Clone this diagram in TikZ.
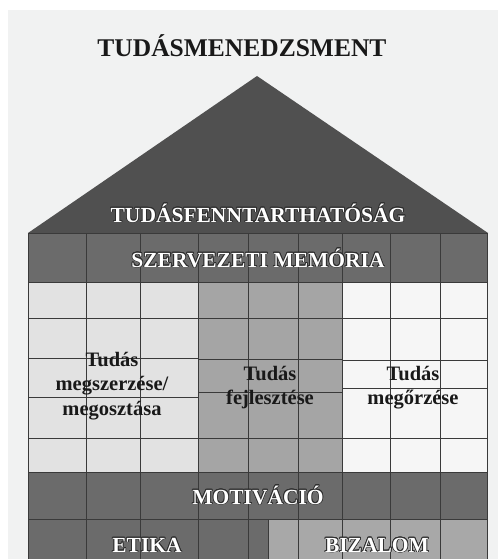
\documentclass[tikz,border=0pt]{standalone}
\usepackage{fontspec}
\usepackage{contour}
\setmainfont{Liberation Serif}
\contourlength{0.7pt}
\definecolor{backdrop}{HTML}{F1F2F2}
\definecolor{roof}{HTML}{505050}
\definecolor{band}{HTML}{6B6B6B}
\definecolor{leftpillar}{HTML}{E2E2E2}
\definecolor{midpillar}{HTML}{A5A5A5}
\definecolor{rightpillar}{HTML}{F6F6F6}
\definecolor{trust}{HTML}{A8A8A8}
\definecolor{gridline}{HTML}{3A3A3A}
\definecolor{glow}{HTML}{2E2E2E}
\newcommand{\bandlabel}[1]{\contour{glow}{#1}}

\begin{document}
\begin{tikzpicture}[x=1pt, y=-1pt]
\tikzstyle{TitleText}=[text=black!90, anchor=base, inner sep=0pt,
                       font=\bfseries\fontsize{25.5}{28}\selectfont]
\tikzstyle{BandText}=[text=white, anchor=base, inner sep=0pt,
                      font=\bfseries\fontsize{21.5}{24}\selectfont]
\tikzstyle{PillarText}=[text=black!90, align=center, inner sep=0pt,
                        font=\bfseries\fontsize{20.5}{24.5}\selectfont]
\tikzstyle{GridLine}=[draw=gridline, line width=0.9pt]
\useasboundingbox (0,0) rectangle (498,559);
\fill[backdrop] (8,10) rectangle (498,559);
% roof
\fill[roof] (28,233) -- (257,76) -- (488,233) -- cycle;
% bands and pillars
\fill[band] (28,233) rectangle (487,282);
\fill[leftpillar] (28,282) rectangle (198,472);
\fill[midpillar] (198,282) rectangle (342,472);
\fill[rightpillar] (342,282) rectangle (487,472);
\fill[band] (28,472) rectangle (487,519);
\fill[band] (28,519) rectangle (268,559);
\fill[trust] (268,519) rectangle (487,559);
% grid
\foreach \x in {28,86,140,198,248,298,342,390,440,487}
  \draw[GridLine] (\x,233) -- (\x,559);
\foreach \y in {233,282,472,519}
  \draw[GridLine] (28,\y) -- (487,\y);
\foreach \y in {318,358,397,438}
  \draw[GridLine] (28,\y) -- (198,\y);
\foreach \y in {318,359,392,438}
  \draw[GridLine] (198,\y) -- (342,\y);
\foreach \y in {318,360,388,438}
  \draw[GridLine] (342,\y) -- (487,\y);
\draw[GridLine] (268,519) -- (268,559);
% texts
\node[TitleText] (title) at (242,57) {TUDÁSMENEDZSMENT};
\node[BandText] (sustain) at (258,222) {\bandlabel{TUDÁSFENNTARTHATÓSÁG}};
\node[BandText] (memory) at (258,267) {\bandlabel{SZERVEZETI MEMÓRIA}};
\node[PillarText] (acquire) at (112,386) {Tudás\\megszerzése/\\megosztása};
\node[PillarText] (develop) at (270,387.5) {Tudás\\fejlesztése};
\node[PillarText] (retain) at (413,387.5) {Tudás\\megőrzése};
\node[BandText] (motivation) at (258,504) {\bandlabel{MOTIVÁCIÓ}};
\node[BandText] (ethics) at (147,552) {\bandlabel{ETIKA}};
\node[BandText] (trustlabel) at (377,552) {\bandlabel{BIZALOM}};
\end{tikzpicture}
\end{document}
